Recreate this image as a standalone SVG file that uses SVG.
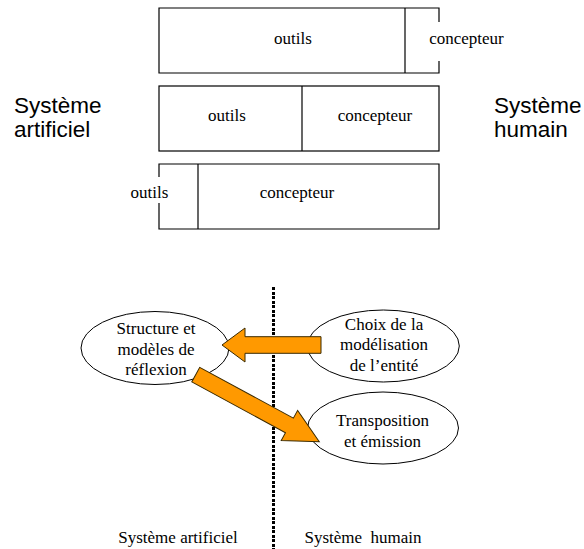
<svg xmlns="http://www.w3.org/2000/svg" width="584" height="549" viewBox="0 0 584 549">
<style>
.box{fill:none;stroke:#000;stroke-width:1.2}
.t{font-family:"Liberation Serif","Times New Roman",serif;font-size:17px;fill:#000;text-anchor:middle}
.s{font-family:"Liberation Sans",Arial,sans-serif;font-size:22.5px;fill:#000}
.ell{fill:#fff;stroke:#000;stroke-width:1}
.arr{fill:#FF9900;stroke:#3a2a00;stroke-width:1}
</style>
<rect width="584" height="549" fill="#fff"/>
<g id="bar1">
<path class="box" d="M439,22 V8 H159 V73 H439 V61"/>
<line class="box" x1="405" y1="8" x2="405" y2="73"/>
<text class="t" x="293" y="44">outils</text>
<text class="t" x="466.5" y="44">concepteur</text>
</g>
<g id="bar2">
<rect class="box" x="159" y="86" width="280" height="65"/>
<line class="box" x1="302" y1="86" x2="302" y2="151"/>
<text class="t" x="227" y="121">outils</text>
<text class="t" x="375" y="121">concepteur</text>
</g>
<g id="bar3">
<path class="box" d="M159,177 V164 H439 V229 H159 V203"/>
<line class="box" x1="198" y1="164" x2="198" y2="229"/>
<text class="t" x="149.5" y="198">outils</text>
<text class="t" x="297" y="198">concepteur</text>
</g>
<g id="label-left">
<text class="s" x="14" y="113">Système</text>
<text class="s" x="14" y="137">artificiel</text>
</g>
<g id="label-right">
<text class="s" x="494" y="113">Système</text>
<text class="s" x="494" y="137">humain</text>
</g>
<g id="divider">
<line x1="273.5" y1="287" x2="273.5" y2="549" stroke="#000" stroke-width="3" stroke-dasharray="3 1.5" shape-rendering="crispEdges"/>
</g>
<g id="structure">
<ellipse class="ell" cx="155" cy="348" rx="74" ry="36.5"/>
<text class="t" x="156" y="334">Structure et</text>
<text class="t" x="156" y="355">modèles de</text>
<text class="t" x="156" y="375">réflexion</text>
</g>
<g id="choix">
<ellipse class="ell" cx="383.3" cy="346" rx="76" ry="36"/>
<text class="t" x="384" y="330">Choix de la</text>
<text class="t" x="384" y="350">modélisation</text>
<text class="t" x="384" y="371">de l’entité</text>
</g>
<g id="transposition">
<ellipse class="ell" cx="383" cy="428" rx="75.5" ry="36"/>
<text class="t" x="382.5" y="426">Transposition</text>
<text class="t" x="382.5" y="447">et émission</text>
</g>
<g id="connectors">
<polygon class="arr" points="222,345 245,328 245,336.7 321,336.7 321,353.3 245,353.3 245,362"/>
<polygon class="arr" transform="translate(319.3,441.7) rotate(28.5)" points="0,0 -34,-17.2 -34,-8.3 -140.6,-8.3 -140.6,8.3 -34,8.3 -34,17.2"/>
</g>
<g id="bottom-labels">
<text class="t" x="178" y="543">Système artificiel</text>
<text class="t" x="363" y="543" xml:space="preserve">Système  humain</text>
</g>
</svg>
